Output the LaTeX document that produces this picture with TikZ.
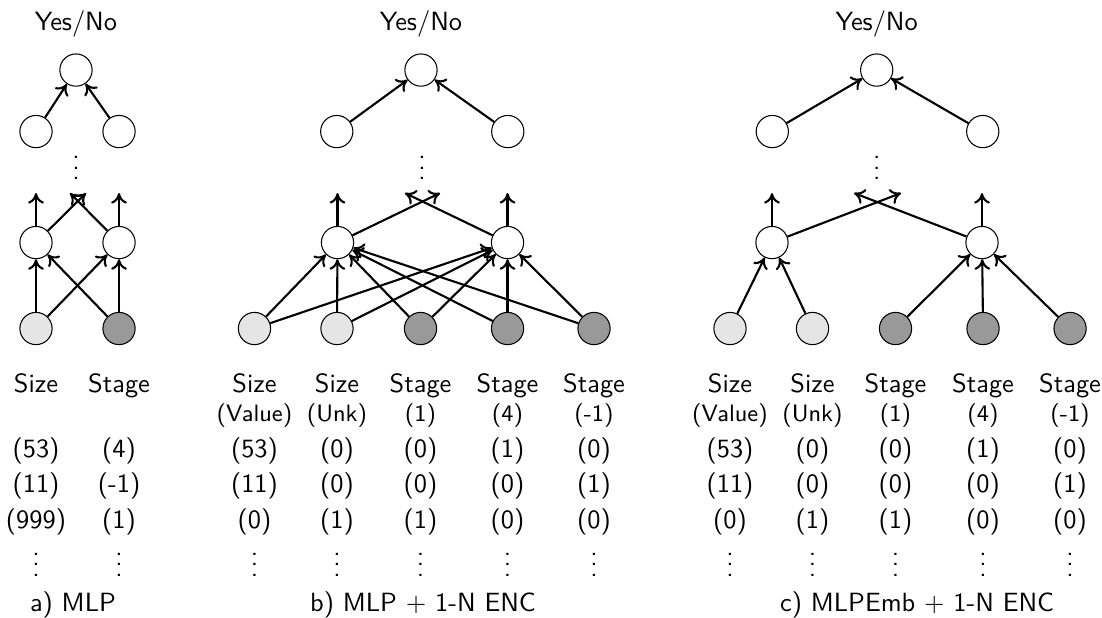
\documentclass[tikz,border=0pt]{standalone}
\usetikzlibrary{arrows.meta}
\renewcommand{\familydefault}{\sfdefault}
\begin{document}
\begin{tikzpicture}[
        neuron/.style={circle, draw, thin, minimum size=0.43cm, inner sep=0pt},
        sizein/.style={neuron, fill=black!10},
        stagein/.style={neuron, fill=black!40},
        conn/.style={-{To[length=4pt, width=6pt]}, thick},
        feat/.style={anchor=north, inner sep=0pt, align=center},
        vals/.style={anchor=north, inner sep=0pt, align=center}
    ]
        \useasboundingbox (0,0) rectangle (14.693,8.227);

        % a) MLP
        \node (titleA) at (1.013,7.907) {Yes/No};
        \node[neuron] (outA) at (1.013,7.293) {};
        \node[neuron] (topA1) at (0.48,6.473) {};
        \node[neuron] (topA2) at (1.587,6.473) {};
        \node (dotsA) at (1.013,6.093) {$\vdots$};
        \coordinate (upA1) at (0.48,5.653);
        \coordinate (upA2) at (1.587,5.653);
        \coordinate (crossA1) at (1.147,5.653);
        \coordinate (crossA2) at (0.933,5.653);
        \node[neuron] (hidA1) at (0.48,4.993) {};
        \node[neuron] (hidA2) at (1.587,4.993) {};
        \node[sizein] (inA1) at (0.48,3.847) {};
        \node[stagein] (inA2) at (1.587,3.847) {};

        \node[feat] (featA1) at (0.48,3.253) {Size};
        \node[feat] (featA2) at (1.587,3.253) {Stage};
        \node[vals] (valA1) at (0.48,2.404) {(53)\\[1.5pt](11)\\[1.5pt](999)\\$\vdots$};
        \node[vals] (valA2) at (1.587,2.404) {(4)\\[1.5pt](-1)\\[1.5pt](1)\\$\vdots$};
        \node (capA) at (0.973,0.16) {a) MLP};

        \draw[conn] (topA1) -- (outA);
        \draw[conn] (topA2) -- (outA);
        \draw[conn] (hidA1) -- (upA1);
        \draw[conn] (hidA1) -- (crossA1);
        \draw[conn] (hidA2) -- (upA2);
        \draw[conn] (hidA2) -- (crossA2);
        \draw[conn] (inA1) -- (hidA1);
        \draw[conn] (inA1) -- (hidA2);
        \draw[conn] (inA2) -- (hidA1);
        \draw[conn] (inA2) -- (hidA2);

        % b) MLP + 1-N ENC
        \node (titleB) at (5.613,7.907) {Yes/No};
        \node[neuron] (outB) at (5.613,7.293) {};
        \node[neuron] (topB1) at (4.49,6.473) {};
        \node[neuron] (topB2) at (6.77,6.473) {};
        \node (dotsB) at (5.627,6.093) {$\vdots$};
        \coordinate (upB1) at (4.5,5.653);
        \coordinate (upB2) at (6.767,5.653);
        \coordinate (crossB1) at (5.867,5.653);
        \coordinate (crossB2) at (5.4,5.653);
        \node[neuron] (hidB1) at (4.5,4.993) {};
        \node[neuron] (hidB2) at (6.767,4.993) {};
        \node[sizein] (inB1) at (3.393,3.847) {};
        \node[sizein] (inB2) at (4.493,3.847) {};
        \node[stagein] (inB3) at (5.607,3.847) {};
        \node[stagein] (inB4) at (6.767,3.847) {};
        \node[stagein] (inB5) at (7.92,3.847) {};

        \node[feat] (featB1) at (3.393,3.253) {Size\\[-1pt]{\small (Value)}};
        \node[feat] (featB2) at (4.493,3.253) {Size\\[-1pt]{\small (Unk)}};
        \node[feat] (featB3) at (5.607,3.253) {Stage\\[-1pt]{\small (1)}};
        \node[feat] (featB4) at (6.767,3.253) {Stage\\[-1pt]{\small (4)}};
        \node[feat] (featB5) at (7.92,3.253) {Stage\\[-1pt]{\small (-1)}};
        \node[vals] (valB1) at (3.393,2.404) {(53)\\[1.5pt](11)\\[1.5pt](0)\\$\vdots$};
        \node[vals] (valB2) at (4.493,2.404) {(0)\\[1.5pt](0)\\[1.5pt](1)\\$\vdots$};
        \node[vals] (valB3) at (5.607,2.404) {(0)\\[1.5pt](0)\\[1.5pt](1)\\$\vdots$};
        \node[vals] (valB4) at (6.767,2.404) {(1)\\[1.5pt](0)\\[1.5pt](0)\\$\vdots$};
        \node[vals] (valB5) at (7.92,2.404) {(0)\\[1.5pt](1)\\[1.5pt](0)\\$\vdots$};
        \node (capB) at (5.64,0.16) {b) MLP $+$ 1-N ENC};

        \draw[conn] (topB1) -- (outB);
        \draw[conn] (topB2) -- (outB);
        \draw[conn] (hidB1) -- (upB1);
        \draw[conn] (hidB1) -- (crossB1);
        \draw[conn] (hidB2) -- (upB2);
        \draw[conn] (hidB2) -- (crossB2);
        \draw[conn] (inB1) -- (hidB1);
        \draw[conn] (inB1) -- (hidB2);
        \draw[conn] (inB2) -- (hidB1);
        \draw[conn] (inB2) -- (hidB2);
        \draw[conn] (inB3) -- (hidB1);
        \draw[conn] (inB3) -- (hidB2);
        \draw[conn] (inB4) -- (hidB1);
        \draw[conn] (inB4) -- (hidB2);
        \draw[conn] (inB5) -- (hidB1);
        \draw[conn] (inB5) -- (hidB2);

        % c) MLPEmb + 1-N ENC
        \node (titleC) at (11.689,7.907) {Yes/No};
        \node[neuron] (outC) at (11.689,7.293) {};
        \node[neuron] (topC1) at (10.297,6.473) {};
        \node[neuron] (topC2) at (13.103,6.473) {};
        \node (dotsC) at (11.689,6.093) {$\vdots$};
        \coordinate (upC1) at (10.293,5.653);
        \coordinate (upC2) at (13.093,5.653);
        \coordinate (crossC1) at (12.013,5.653);
        \coordinate (crossC2) at (11.387,5.653);
        \node[neuron] (hidC1) at (10.293,4.993) {};
        \node[neuron] (hidC2) at (13.093,4.993) {};
        \node[sizein] (inC1) at (9.733,3.847) {};
        \node[sizein] (inC2) at (10.833,3.847) {};
        \node[stagein] (inC3) at (11.94,3.847) {};
        \node[stagein] (inC4) at (13.107,3.847) {};
        \node[stagein] (inC5) at (14.267,3.847) {};

        \node[feat] (featC1) at (9.733,3.253) {Size\\[-1pt]{\small (Value)}};
        \node[feat] (featC2) at (10.833,3.253) {Size\\[-1pt]{\small (Unk)}};
        \node[feat] (featC3) at (11.94,3.253) {Stage\\[-1pt]{\small (1)}};
        \node[feat] (featC4) at (13.107,3.253) {Stage\\[-1pt]{\small (4)}};
        \node[feat] (featC5) at (14.267,3.253) {Stage\\[-1pt]{\small (-1)}};
        \node[vals] (valC1) at (9.733,2.404) {(53)\\[1.5pt](11)\\[1.5pt](0)\\$\vdots$};
        \node[vals] (valC2) at (10.833,2.404) {(0)\\[1.5pt](0)\\[1.5pt](1)\\$\vdots$};
        \node[vals] (valC3) at (11.94,2.404) {(0)\\[1.5pt](0)\\[1.5pt](1)\\$\vdots$};
        \node[vals] (valC4) at (13.107,2.404) {(1)\\[1.5pt](0)\\[1.5pt](0)\\$\vdots$};
        \node[vals] (valC5) at (14.267,2.404) {(0)\\[1.5pt](1)\\[1.5pt](0)\\$\vdots$};
        \node (capC) at (12.227,0.16) {c) MLPEmb $+$ 1-N ENC};

        \draw[conn] (topC1) -- (outC);
        \draw[conn] (topC2) -- (outC);
        \draw[conn] (hidC1) -- (upC1);
        \draw[conn] (hidC1) -- (crossC1);
        \draw[conn] (hidC2) -- (upC2);
        \draw[conn] (hidC2) -- (crossC2);
        \draw[conn] (inC1) -- (hidC1);
        \draw[conn] (inC2) -- (hidC1);
        \draw[conn] (inC3) -- (hidC2);
        \draw[conn] (inC4) -- (hidC2);
        \draw[conn] (inC5) -- (hidC2);
    \end{tikzpicture}
\end{document}
